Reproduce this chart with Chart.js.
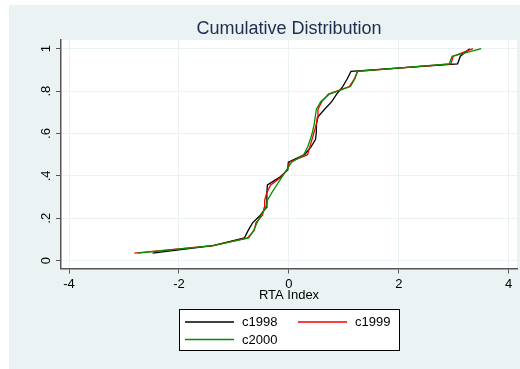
<!DOCTYPE html>
<html>
<head>
<meta charset="utf-8">
<title>Cumulative Distribution</title>
<script src="https://cdn.jsdelivr.net/npm/chart.js@4.4.0/dist/chart.umd.min.js"></script>
<style>
  body { margin: 0; background: #fff; }
  canvas { display: block; }
</style>
</head>
<body>
<canvas id="cdfChart" width="520" height="369"></canvas>
<script>
// cumulative share (28 observations per year)
const cumShare = [0.0357, 0.0714, 0.1071, 0.1429, 0.1786, 0.2143, 0.25, 0.2857, 0.3214, 0.3571,
                  0.3929, 0.4286, 0.4643, 0.5, 0.5357, 0.5714, 0.6071, 0.6429, 0.6786, 0.7143,
                  0.75, 0.7857, 0.8214, 0.8571, 0.8929, 0.9286, 0.9643, 1];

// sorted RTA index values
const c1998 = [-2.48, -1.38, -0.81, -0.74, -0.66, -0.52, -0.41, -0.40, -0.40, -0.39,
               -0.17, -0.02, -0.01, 0.285, 0.40, 0.485, 0.50, 0.50, 0.53, 0.65,
               0.78, 0.87, 0.98, 1.06, 1.13, 3.07, 3.12, 3.29];
const c1999 = [-2.81, -1.38, -0.75, -0.63, -0.60, -0.48, -0.45, -0.44, -0.40, -0.33,
               -0.15, -0.03, 0.01, 0.34, 0.38, 0.42, 0.46, 0.50, 0.52, 0.53,
               0.60, 0.72, 1.10, 1.19, 1.25, 2.95, 2.99, 3.35];
const c2000 = [-2.75, -1.38, -0.73, -0.64, -0.58, -0.51, -0.42, -0.39, -0.31, -0.22,
               -0.13, -0.04, 0.05, 0.27, 0.34, 0.39, 0.43, 0.46, 0.48, 0.50,
               0.58, 0.74, 1.12, 1.20, 1.25, 2.92, 2.97, 3.50];

const seriesNames = ['c1998', 'c1999', 'c2000'];
const xTicks = [-4, -2, 0, 2, 4];
const yTicks = [0, 0.2, 0.4, 0.6, 0.8, 1];
const yTickLabels = ['0', '.2', '.4', '.6', '.8', '1'];

Chart.defaults.font.family = '"Liberation Sans", Arial, Helvetica, sans-serif';
Chart.defaults.color = '#000';

function toPoints(xs) {
    return xs.map((x, i) => ({ x: x, y: cumShare[i] }));
}

// light stata-like graph region + white plot region
const stataBackground = {
    id: 'stataBackground',
    beforeDraw(chart) {
        const { ctx, chartArea: a } = chart;
        ctx.save();
        ctx.fillStyle = '#ffffff';
        ctx.fillRect(0, 0, chart.width, chart.height);
        ctx.fillStyle = '#eaf2f3';
        ctx.fillRect(9, 5, chart.width - 9, chart.height - 5);
        ctx.fillStyle = '#ffffff';
        ctx.fillRect(a.left, a.top, a.right - a.left, a.bottom - a.top);
        ctx.restore();
    }
};

// boxed legend, two columns
const boxLegend = {
    id: 'boxLegend',
    afterDraw(chart) {
        const { ctx, chartArea: a } = chart;
        const w = 220, h = 41, colW = 113;
        const left = Math.round((a.left + a.right) / 2 - w / 2) + 0.5;
        const top = Math.round(a.bottom + 40) + 0.5;
        ctx.save();
        ctx.fillStyle = '#ffffff';
        ctx.fillRect(left, top, w, h);
        ctx.strokeStyle = '#000';
        ctx.lineWidth = 1;
        ctx.strokeRect(left, top, w, h);
        ctx.font = '13px "Liberation Sans", Arial, sans-serif';
        ctx.textBaseline = 'middle';
        chart.data.datasets.forEach((ds, i) => {
            const x = left + 5.5 + (i % 2) * colW;
            const y = top + 12.5 + Math.floor(i / 2) * 17.5;
            ctx.strokeStyle = ds.borderColor;
            ctx.lineWidth = 1.3;
            ctx.beginPath();
            ctx.moveTo(x, y);
            ctx.lineTo(x + 49, y);
            ctx.stroke();
            ctx.fillStyle = '#000';
            ctx.fillText(ds.label, x + 57, y + 0.5);
        });
        ctx.restore();
    }
};

const gridOpts = { color: '#eaf2f3', lineWidth: 1, tickColor: '#555', tickLength: 5, tickWidth: 1 };
const borderOpts = { color: '#555', width: 1.5 };

new Chart(document.getElementById('cdfChart'), {
    type: 'scatter',
    data: {
        datasets: [
            { label: seriesNames[0], data: toPoints(c1998), borderColor: '#000000', order: 2 },
            { label: seriesNames[1], data: toPoints(c1999), borderColor: '#f00000', order: 1 },
            { label: seriesNames[2], data: toPoints(c2000), borderColor: '#009000', order: 0 }
        ]
    },
    options: {
        responsive: false,
        animation: false,
        devicePixelRatio: 1,
        showLine: true,
        elements: {
            line: { borderWidth: 1.3, tension: 0, fill: false },
            point: { radius: 0, hoverRadius: 0 }
        },
        layout: { padding: { left: 0, right: 3, top: 0, bottom: 66.2 } },
        plugins: {
            legend: { display: false },
            tooltip: { enabled: false },
            title: {
                display: true,
                text: 'Cumulative Distribution',
                color: '#1f2d4e',
                fullSize: false,
                font: { size: 18, weight: 'normal' },
                padding: { top: 18, bottom: 0.4 }
            }
        },
        scales: {
            x: {
                type: 'linear',
                min: -4.146,
                max: 4.151,
                afterBuildTicks: s => { s.ticks = xTicks.map(v => ({ value: v })); },
                afterFit: s => { s.height = 34.3; },
                grid: gridOpts,
                border: borderOpts,
                ticks: { font: { size: 13 }, padding: 3, maxRotation: 0, autoSkip: false },
                title: { display: true, text: 'RTA Index', font: { size: 13 }, padding: 0 }
            },
            y: {
                type: 'linear',
                min: -0.0368,
                max: 1.041,
                afterBuildTicks: s => { s.ticks = yTicks.map(v => ({ value: v })); },
                afterFit: s => { s.width = 61; },
                grid: gridOpts,
                border: borderOpts,
                ticks: {
                    font: { size: 13 },
                    padding: 4,
                    minRotation: 90,
                    maxRotation: 90,
                    crossAlign: 'center',
                    autoSkip: false,
                    callback: v => yTickLabels[yTicks.indexOf(v)]
                }
            }
        }
    },
    plugins: [stataBackground, boxLegend]
});
</script>
</body>
</html>
